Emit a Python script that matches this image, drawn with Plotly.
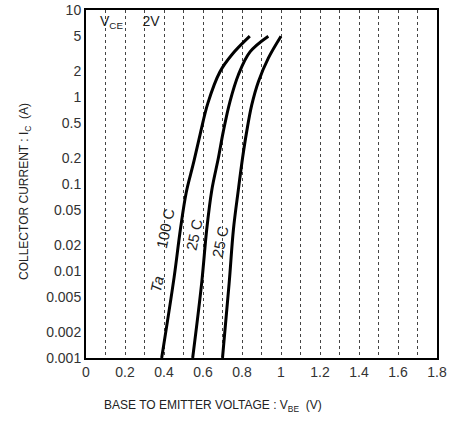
import plotly.graph_objects as go

# Data (VBE in V, IC in A)
t100_vbe = [0.388, 0.452, 0.484, 0.514, 0.55, 0.585, 0.625, 0.687, 0.75, 0.84]
t100_ic = [0.001, 0.0085, 0.03, 0.08, 0.17, 0.37, 0.85, 1.95, 3.1, 5.0]

t25_vbe = [0.547, 0.593, 0.619, 0.645, 0.679, 0.704, 0.738, 0.781, 0.841, 0.935]
t25_ic = [0.001, 0.0072, 0.03, 0.085, 0.2, 0.40, 0.88, 1.79, 3.3, 5.0]

tm25_vbe = [0.70, 0.734, 0.756, 0.781, 0.803, 0.824, 0.85, 0.884, 0.935, 1.0]
tm25_ic = [0.001, 0.0072, 0.03, 0.085, 0.2, 0.4, 0.81, 1.5, 2.8, 5.0]

x_ticks = [0, 0.2, 0.4, 0.6, 0.8, 1.0, 1.2, 1.4, 1.6, 1.8]
x_ticklabels = ["0", "0.2", "0.4", "0.6", "0.8", "1", "1.2", "1.4", "1.6", "1.8"]
y_ticks = [0.001, 0.002, 0.005, 0.01, 0.02, 0.05, 0.1, 0.2, 0.5, 1, 2, 5, 10]
y_ticklabels = ["0.001", "0.002", "0.005", "0.01", "0.02", "0.05", "0.1", "0.2",
                "0.5", "1", "2", "5", "10"]

FONT = "Liberation Sans"
INK = "#222222"
W, H = 462, 424
ML, MR, MT, MB = 86, 25, 10, 66
PW, PH = W - ML - MR, H - MT - MB

fig = go.Figure()
for xs, ys in [(t100_vbe, t100_ic), (t25_vbe, t25_ic), (tm25_vbe, tm25_ic)]:
    fig.add_trace(go.Scatter(x=xs, y=ys, mode="lines",
                             line=dict(color="black", width=3, shape="spline", smoothing=1.0),
                             showlegend=False, hoverinfo="skip"))

fig.update_layout(
    width=W, height=H,
    margin=dict(l=ML, r=MR, t=MT, b=MB),
    paper_bgcolor="white", plot_bgcolor="white",
    font=dict(family=FONT, color=INK, size=14),
)
fig.update_xaxes(
    range=[0, 1.8], tickvals=x_ticks, ticktext=x_ticklabels,
    showline=True, linecolor="black", linewidth=2, mirror=True,
    showgrid=False, zeroline=False, ticks="", automargin=False,
    tickfont=dict(size=14, family=FONT, color="#333333"),
    minor=dict(dtick=0.1, tick0=0, showgrid=True, gridcolor="#444444",
               griddash="dot", gridwidth=1),
)
fig.update_yaxes(
    type="log", range=[-3, 1], tickvals=y_ticks, ticktext=y_ticklabels,
    showline=True, linecolor="black", linewidth=2, mirror=True,
    showgrid=False, zeroline=False, ticks="", automargin=False,
    tickfont=dict(size=14, family=FONT, color="#333333"),
)

# axis titles placed as annotations (positions given in page pixels)
fig.add_annotation(
    x=(213 - ML) / PW, y=-(406 - (H - MB)) / PH,
    xref="paper", yref="paper", xanchor="center", yanchor="middle",
    text="BASE TO EMITTER VOLTAGE : V<sub>BE</sub>  (V)", showarrow=False,
    font=dict(size=12, family=FONT, color=INK))
fig.add_annotation(
    x=-(ML - 25) / PW, y=((H - MB) - 192) / PH,
    xref="paper", yref="paper", xanchor="center", yanchor="middle", textangle=-90,
    text="COLLECTOR CURRENT : I<sub>C</sub>  (A)", showarrow=False,
    font=dict(size=12, family=FONT, color=INK))

ann = [
    dict(x=0.226, y=0.862, text="V<sub>CE</sub>     2V", textangle=0, size=14),
    dict(x=0.408, y=-1.517, text="100 C", textangle=-78, size=15),
    dict(x=0.557, y=-1.586, text="25 C", textangle=-78, size=15),
    dict(x=0.685, y=-1.667, text="25 C", textangle=-78, size=15),
    dict(x=0.366, y=-2.149, text="<i>Ta</i>", textangle=-78, size=15),
]
for a in ann:
    fig.add_annotation(x=a["x"], y=a["y"], xref="x", yref="y", text=a["text"],
                       textangle=a["textangle"], showarrow=False,
                       font=dict(size=a["size"], family=FONT, color=INK))

fig.write_html("out.html", config={"displayModeBar": False},
               post_script="document.body.style.margin='0';")
